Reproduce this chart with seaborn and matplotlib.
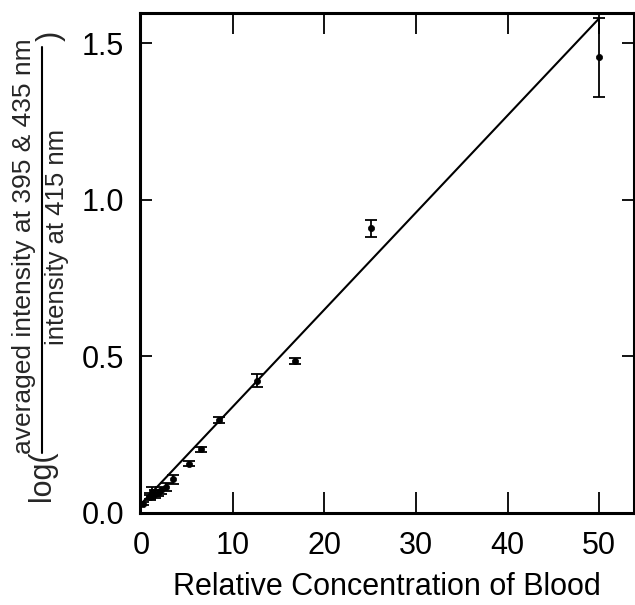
import matplotlib
matplotlib.use("Agg")
import matplotlib.pyplot as plt
import seaborn as sns
import pandas as pd
import numpy as np
from matplotlib.lines import Line2D

# ---- data ----
conc = [0.2, 0.9, 1.0, 1.2, 1.5, 1.8, 2.2, 2.7, 3.5, 5.2, 6.5, 8.5, 12.6, 16.8, 25.1, 50.0]
ratio = [0.03, 0.05, 0.055, 0.068, 0.06, 0.064, 0.072, 0.083, 0.108, 0.158, 0.203, 0.296, 0.423, 0.485, 0.91, 1.455]
err = [0.006, 0.008, 0.01, 0.015, 0.012, 0.01, 0.01, 0.012, 0.014, 0.008, 0.008, 0.01, 0.02, 0.01, 0.027, 0.125]
fit_x = [0.0, 50.0]
fit_intercept = 0.03
fit_slope = 0.031
xticks = [0, 10, 20, 30, 40, 50]
yticks = [0.0, 0.5, 1.0, 1.5]
ytick_labels = ["0.0", "0.5", "1.0", "1.5"]
xlabel = "Relative Concentration of Blood"
ylab_log = "log("
ylab_num = "averaged intensity at 395 & 435 nm"
ylab_den = "intensity at 415 nm"
ylab_close = ")"

df = pd.DataFrame({"conc": conc, "ratio": ratio, "err": err})
fit_df = pd.DataFrame({"x": fit_x, "y": [fit_intercept + fit_slope * v for v in fit_x]})

sns.set_style("white")
plt.rcParams["font.family"] = ["Liberation Sans", "DejaVu Sans"]

W, H = 635, 605
fig = plt.figure(figsize=(W / 100, H / 100), dpi=100)
ax = fig.add_axes([139.5 / W, (H - 513) / H, (634 - 139.5) / W, 500 / H])

sns.lineplot(data=fit_df, x="x", y="y", ax=ax, color="black", lw=1.5)
ax.errorbar(df["conc"], df["ratio"], yerr=df["err"], fmt="none", ecolor="black",
            elinewidth=1.3, capsize=4.3, capthick=1.3)
sns.scatterplot(data=df, x="conc", y="ratio", ax=ax, color="black", s=20,
                edgecolor="black", linewidth=0.5, zorder=5)

ax.set_xlim(-0.2, 53.8)
ax.set_ylim(0, 1.597)
ax.set_xticks(xticks)
ax.set_yticks(yticks)
ax.set_yticklabels(ytick_labels)
ax.tick_params(axis="x", direction="in", length=15, width=1.3, top=True, bottom=True,
               labelsize=22, pad=13, colors="black")
ax.tick_params(axis="y", direction="in", length=8.5, width=1.3, left=True, right=True,
               labelsize=22, pad=11, colors="black")
for s in ax.spines.values():
    s.set_color("black")
    s.set_linewidth(2.2)
ax.set_xlabel(xlabel, fontsize=22, labelpad=8, color="black")
ax.set_ylabel("")

# composite y label
def fx(px):
    return px / W

def fy(py):
    return (H - py) / H

fig.text(fx(41.5), fy(476), ylab_log, rotation=90, ha="center", va="center", fontsize=22)
fig.text(fx(24.5), fy(246), ylab_num, rotation=90, ha="center", va="center", fontsize=19)
fig.text(fx(57), fy(237), ylab_den, rotation=90, ha="center", va="center", fontsize=18.5)
fig.text(fx(51), fy(36), ylab_close, rotation=90, ha="center", va="center", fontsize=22)
fig.add_artist(Line2D([fx(42), fx(42)], [fy(453), fy(47)], transform=fig.transFigure,
                      color="black", lw=1.5))

fig.savefig("out.png", dpi=100, facecolor="white")
